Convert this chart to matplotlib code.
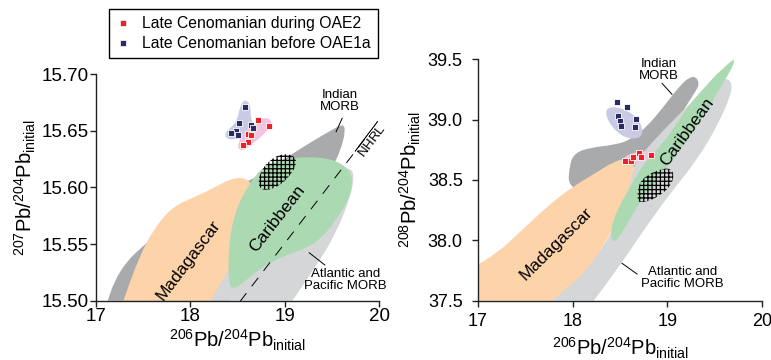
import numpy as np
import matplotlib
matplotlib.use("Agg")
import matplotlib.pyplot as plt
from matplotlib.patches import PathPatch
from matplotlib.path import Path
from matplotlib.lines import Line2D

plt.rcParams["font.family"] = ["Liberation Sans", "DejaVu Sans"]
plt.rcParams["mathtext.fontset"] = "custom"
plt.rcParams["mathtext.rm"] = "Liberation Sans"
plt.rcParams["mathtext.it"] = "Liberation Sans:italic"
plt.rcParams["mathtext.bf"] = "Liberation Sans:bold"
plt.rcParams["hatch.linewidth"] = 0.9

# colours
c_indian = "#a9aaac"
c_atlpac = "#d5d6d8"
c_mad = "#fdd3aa"
c_car = "#abdab2"
c_lav = "#c9cbe4"
c_pink = "#f6c3de"
c_red = "#ec2229"
c_navy = "#2b2b66"

# ---- 207Pb/204Pb vs 206Pb/204Pb fields ----
indian7 = [(17.124, 15.500), (17.194, 15.517), (17.318, 15.534), (17.494, 15.548),
           (18.059, 15.589), (18.660, 15.606), (18.977, 15.624), (19.260, 15.639),
           (19.507, 15.651), (19.620, 15.656), (19.645, 15.650), (19.595, 15.633),
           (19.507, 15.618), (19.119, 15.545), (18.412, 15.500)]
atlpac7 = [(18.165, 15.500), (18.412, 15.536), (18.695, 15.574), (19.119, 15.600),
           (19.472, 15.614), (19.684, 15.618), (19.740, 15.611), (19.700, 15.592),
           (19.542, 15.559), (19.330, 15.530), (19.083, 15.500)]
mad7 = [(17.290, 15.500), (17.459, 15.539), (17.618, 15.564), (17.812, 15.583),
        (18.059, 15.592), (18.236, 15.599), (18.412, 15.607), (18.554, 15.609),
        (18.650, 15.604), (18.665, 15.589), (18.607, 15.565), (18.483, 15.539),
        (18.342, 15.518), (18.218, 15.500)]
car7 = [(18.405, 15.512), (18.405, 15.551), (18.483, 15.581), (18.624, 15.603),
        (18.766, 15.618), (18.977, 15.625), (19.260, 15.627), (19.507, 15.625),
        (19.690, 15.616), (19.725, 15.603), (19.670, 15.588), (19.542, 15.571),
        (19.401, 15.556), (19.225, 15.546), (18.977, 15.539), (18.766, 15.530),
        (18.589, 15.518), (18.483, 15.511)]
hatch7 = [(18.720, 15.600), (18.730, 15.612), (18.836, 15.624), (18.977, 15.630),
          (19.101, 15.628), (19.129, 15.621), (19.066, 15.611), (18.942, 15.601),
          (18.801, 15.597)]
lav7 = [(18.367, 15.648), (18.419, 15.652), (18.490, 15.658), (18.518, 15.668),
        (18.554, 15.676), (18.596, 15.677), (18.639, 15.672), (18.639, 15.661),
        (18.666, 15.657), (18.690, 15.651), (18.596, 15.644), (18.454, 15.642),
        (18.380, 15.643)]
pink7 = [(18.507, 15.637), (18.525, 15.643), (18.596, 15.651), (18.702, 15.658),
         (18.790, 15.662), (18.865, 15.659), (18.855, 15.654), (18.772, 15.646),
         (18.666, 15.639), (18.578, 15.633), (18.512, 15.633)]

# samples (initial ratios)
oae1a_206 = [18.578, 18.512, 18.486, 18.427, 18.501, 18.645, 18.666]
oae1a_207 = [15.671, 15.657, 15.650, 15.648, 15.646, 15.655, 15.652]
oae2_206 = [18.713, 18.833, 18.610, 18.642, 18.613, 18.554]
oae2_207 = [15.659, 15.654, 15.647, 15.646, 15.640, 15.637]

# ---- 208Pb/204Pb vs 206Pb/204Pb fields ----
indian8 = [(17.950, 38.417), (17.968, 38.638), (18.028, 38.726), (18.186, 38.768),
           (18.433, 38.790), (18.609, 38.831), (18.785, 38.942), (18.961, 39.107),
           (19.137, 39.287), (19.243, 39.356), (19.306, 39.353), (19.335, 39.301),
           (19.313, 39.246), (18.891, 38.748), (18.328, 38.417)]
atlpac8 = [(17.781, 37.500), (17.975, 37.644), (18.257, 37.865), (18.468, 38.141),
           (18.574, 38.390), (18.609, 38.528), (18.680, 38.666), (18.891, 38.859),
           (19.172, 39.080), (19.384, 39.246), (19.524, 39.315), (19.630, 39.345),
           (19.686, 39.301), (19.665, 39.190), (19.524, 38.942), (19.313, 38.666),
           (19.031, 38.389), (18.750, 38.085), (18.468, 37.754), (18.222, 37.500)]
mad8 = [(16.900, 37.500), (16.900, 37.754), (17.201, 37.892), (17.447, 38.072),
        (17.729, 38.279), (17.975, 38.431), (18.222, 38.549), (18.433, 38.652),
        (18.574, 38.682), (18.655, 38.652), (18.627, 38.527), (18.574, 38.389),
        (18.486, 38.196), (18.345, 37.975), (18.151, 37.754), (17.940, 37.602),
        (17.781, 37.500)]
car8 = [(18.415, 37.995), (18.398, 38.086), (18.468, 38.251), (18.609, 38.445),
        (18.750, 38.638), (18.926, 38.776), (19.102, 38.969), (19.243, 39.135),
        (19.384, 39.259), (19.560, 39.411), (19.700, 39.500), (19.707, 39.466),
        (19.630, 39.356), (19.524, 39.218), (19.384, 39.024), (19.208, 38.831),
        (19.031, 38.638), (18.855, 38.472), (18.680, 38.279), (18.539, 38.086),
        (18.451, 37.990)]
hatch8 = [(18.679, 38.334), (18.697, 38.472), (18.785, 38.541), (18.926, 38.590),
          (19.032, 38.598), (19.074, 38.541), (19.032, 38.445), (18.926, 38.376),
          (18.820, 38.329), (18.715, 38.312)]
lav8 = [(18.345, 39.062), (18.380, 39.103), (18.468, 39.103), (18.574, 39.075),
        (18.680, 39.020), (18.736, 38.937), (18.736, 38.868), (18.662, 38.838),
        (18.556, 38.852), (18.468, 38.896), (18.380, 38.979)]
pink8 = [(18.521, 38.652), (18.546, 38.694), (18.645, 38.727), (18.750, 38.741),
         (18.849, 38.735), (18.863, 38.699), (18.785, 38.666), (18.680, 38.638),
         (18.574, 38.624)]

oae1a_206b = [18.470, 18.574, 18.479, 18.503, 18.665, 18.507, 18.655]
oae1a_208 = [39.143, 39.102, 39.027, 38.986, 39.002, 38.947, 38.942]
oae2_206b = [18.556, 18.612, 18.634, 18.704, 18.718, 18.827]
oae2_208 = [38.654, 38.654, 38.693, 38.721, 38.687, 38.709]

# Northern Hemisphere Reference Line (Hart 1984)
nhrl_x = np.array([18.525, 19.85])
nhrl_y = 0.1084 * nhrl_x + 13.491


def blob(pts, sharp=()):
    """Closed outline through quadratic Beziers; `sharp` vertices are kept as corners."""
    p = np.asarray(pts, dtype=float)
    n = len(p)
    sharp = {i % n for i in sharp}
    mids = (p + np.roll(p, -1, axis=0)) / 2
    start = p[0] if 0 in sharp else mids[-1]
    verts, codes = [start], [Path.MOVETO]
    for i in range(n):
        nxt = (i + 1) % n
        if i in sharp:
            verts.append(p[i]); codes.append(Path.LINETO)
            end = p[nxt] if nxt in sharp else mids[i]
            verts.append(end); codes.append(Path.LINETO)
        else:
            end = p[nxt] if nxt in sharp else mids[i]
            verts += [p[i], end]
            codes += [Path.CURVE3, Path.CURVE3]
    verts.append(start); codes.append(Path.CLOSEPOLY)
    return Path(verts, codes)


def field(ax, pts, col, sharp=(), z=1):
    ax.add_patch(PathPatch(blob(pts, sharp), facecolor=col, edgecolor="none", zorder=z))


def hatched(ax, pts):
    ax.add_patch(PathPatch(blob(pts), fill=False, edgecolor="black",
                           linewidth=0, hatch="++++", zorder=2))


def samples(ax, x, y, col):
    ax.plot(x, y, "s", ms=4.2, mfc=col, mec="white", mew=0.6, zorder=5)


def style(ax, fs):
    for s in ("top", "right"):
        ax.spines[s].set_visible(False)
    for s in ("left", "bottom"):
        ax.spines[s].set_linewidth(1.0)
        ax.spines[s].set_color("#222222")
    ax.tick_params(direction="out", length=4, width=1.0, colors="#222222",
                   labelsize=fs, labelcolor="black")


fig = plt.figure(figsize=(7.71, 3.60), dpi=100)

# left panel
ax1 = fig.add_axes([96 / 771, 59.3 / 360, 283 / 771, 226.7 / 360])
field(ax1, indian7, c_indian, sharp=(0, -1))
field(ax1, atlpac7, c_atlpac, sharp=(0, -1))
field(ax1, mad7, c_mad, sharp=(0, -1))
field(ax1, car7, c_car)
hatched(ax1, hatch7)
field(ax1, lav7, c_lav, z=3)
field(ax1, pink7, c_pink, z=3)
samples(ax1, oae2_206, oae2_207, c_red)
samples(ax1, oae1a_206, oae1a_207, c_navy)
ax1.plot(nhrl_x, nhrl_y, color="black", lw=0.7, dashes=(11, 9), zorder=4)
ax1.text(19.935, 15.641, r"$\overline{\mathrm{NHRL}}$", fontsize=9.5, rotation=53,
         ha="center", va="center", zorder=6)
ax1.text(19.585, 15.676, "Indian\nMORB", fontsize=9.5, ha="center", va="center",
         linespacing=1.0)
ax1.plot([19.61, 19.545], [15.661, 15.649], color="black", lw=0.7, zorder=6)
ax1.text(19.643, 15.5187, "Atlantic and\nPacific MORB", fontsize=9.5, ha="center",
         va="center", linespacing=1.0, clip_on=False)
ax1.plot([19.26, 19.426], [15.5423, 15.5315], color="black", lw=0.7, zorder=6)
ax1.text(17.978, 15.536, "Madagascar", fontsize=12.5, rotation=53, ha="center",
         va="center", zorder=6)
ax1.text(18.925, 15.5727, "Caribbean", fontsize=12.5, rotation=52, ha="center",
         va="center", zorder=6)
ax1.set_xlim(17, 20)
ax1.set_ylim(15.50, 15.70)
ax1.set_xticks([17, 18, 19, 20])
ax1.set_yticks([15.50, 15.55, 15.60, 15.65, 15.70])
ax1.set_yticklabels(["15.50", "15.55", "15.60", "15.65", "15.70"])
style(ax1, 13.5)
ax1.tick_params(axis="y", pad=1)
ax1.tick_params(axis="x", pad=1)
ax1.set_xlabel(r"$^{206}$Pb/$^{204}$Pb$_{\mathrm{initial}}$", fontsize=14.5, labelpad=2)
ax1.set_ylabel(r"$^{207}$Pb/$^{204}$Pb$_{\mathrm{initial}}$", fontsize=14.5, labelpad=3)

# right panel
ax2 = fig.add_axes([478 / 771, 59.3 / 360, 284 / 771, 241.4 / 360])
field(ax2, indian8, c_indian)
field(ax2, atlpac8, c_atlpac, sharp=(0, -1))
field(ax2, mad8, c_mad, sharp=(0, 1, -1))
field(ax2, car8, c_car, sharp=(10,))
hatched(ax2, hatch8)
field(ax2, lav8, c_lav, z=3)
field(ax2, pink8, c_pink, z=3)
samples(ax2, oae2_206b, oae2_208, c_red)
samples(ax2, oae1a_206b, oae1a_208, c_navy)
ax2.text(18.908, 39.414, "Indian\nMORB", fontsize=9.5, ha="center", va="center",
         linespacing=1.0)
ax2.plot([18.944, 19.049], [39.301, 39.210], color="black", lw=0.7, zorder=6)
ax2.text(19.161, 37.691, "Atlantic and\nPacific MORB", fontsize=9.5, ha="center",
         va="center", linespacing=1.0)
ax2.plot([18.521, 18.68], [37.81, 37.721], color="black", lw=0.7, zorder=6)
ax2.text(17.824, 37.97, "Madagascar", fontsize=12.5, rotation=45, ha="center",
         va="center", zorder=6)
ax2.text(19.208, 38.90, "Caribbean", fontsize=12.5, rotation=54, ha="center",
         va="center", zorder=6)
ax2.set_xlim(17, 20)
ax2.set_ylim(37.5, 39.5)
ax2.set_xticks([17, 18, 19, 20])
ax2.set_yticks([37.5, 38.0, 38.5, 39.0, 39.5])
ax2.set_yticklabels(["37.5", "38.0", "38.5", "39.0", "39.5"])
style(ax2, 13)
ax2.tick_params(axis="y", pad=7)
ax2.tick_params(axis="x", pad=5)
ax2.set_xlabel(r"$^{206}$Pb/$^{204}$Pb$_{\mathrm{initial}}$", fontsize=14.5, labelpad=4)
ax2.set_ylabel(r"$^{208}$Pb/$^{204}$Pb$_{\mathrm{initial}}$", fontsize=14.5, labelpad=3)

handles = [
    Line2D([], [], ls="none", marker="s", ms=4.2, mfc=c_red, mec="white", mew=0.5,
           label="Late Cenomanian during OAE2"),
    Line2D([], [], ls="none", marker="s", ms=4.2, mfc=c_navy, mec="white", mew=0.5,
           label="Late Cenomanian before OAE1a"),
]
leg = fig.legend(handles=handles, loc="upper left",
                 bbox_to_anchor=(109 / 771, 1 - 9.3 / 360), fontsize=11.3,
                 frameon=True, fancybox=False, edgecolor="black", framealpha=1,
                 handlelength=0.9, handletextpad=0.75, borderpad=0.45,
                 labelspacing=0.3, borderaxespad=0)
leg.get_frame().set_linewidth(1.0)

fig.savefig("out.png", dpi=100)
